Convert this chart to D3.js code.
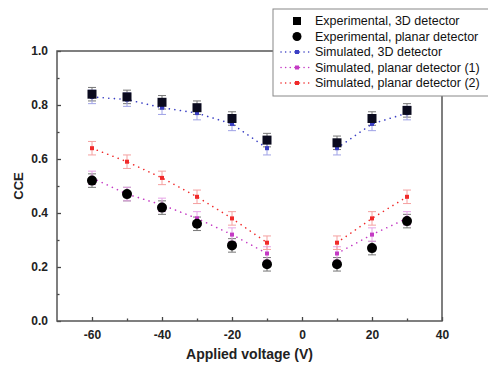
<!DOCTYPE html>
<html>
<head>
<meta charset="utf-8">
<script src="https://cdn.jsdelivr.net/npm/d3@7"></script>
<style>
  body { margin: 0; background: #fff; }
  svg { display: block; font-family: "Liberation Sans", Arial, sans-serif; }
</style>
</head>
<body>
<svg id="chart" width="488" height="366"></svg>
<script>
// data
const voltages = [-60, -50, -40, -30, -20, -10, 10, 20, 30];
const exp3d = [0.84, 0.83, 0.81, 0.79, 0.75, 0.67, 0.66, 0.75, 0.78];
const expPlanar = [0.52, 0.47, 0.42, 0.36, 0.28, 0.21, 0.21, 0.27, 0.37];
const sim3d = [0.83, 0.82, 0.79, 0.77, 0.73, 0.64, 0.64, 0.73, 0.77];
const simPlanar1 = [0.53, 0.47, 0.43, 0.38, 0.32, 0.25, 0.25, 0.32, 0.38];
const simPlanar2 = [0.64, 0.59, 0.53, 0.46, 0.38, 0.29, 0.29, 0.38, 0.46];
const errExp = 0.025;
const errSim = 0.025;
const xTicks = [-60, -40, -20, 0, 20, 40];
const yTicks = [0.0, 0.2, 0.4, 0.6, 0.8, 1.0];

const svg = d3.select('svg#chart');
const margin = {top: 51, right: 46, bottom: 45, left: 57};
const width = 488, height = 366;
const innerW = width - margin.left - margin.right;
const innerH = height - margin.top - margin.bottom;

const x = d3.scaleLinear().domain([-70, 40]).range([0, innerW]);
const y = d3.scaleLinear().domain([0, 1]).range([innerH, 0]);

const g = svg.append('g').attr('transform', `translate(${margin.left},${margin.top})`);

// ticks (inside), major + minor
const xAxis = d3.axisBottom(x).tickValues(xTicks).tickSize(-4).tickPadding(9).tickFormat(d => String(d));
const xMinor = d3.axisBottom(x).tickValues([-50, -30, -10, 10, 30]).tickSize(-2.5).tickFormat('');
const yAxis = d3.axisLeft(y).tickValues(yTicks).tickSize(-4).tickPadding(9).tickFormat(d => d.toFixed(1));
const yMinor = d3.axisLeft(y).tickValues([0.1, 0.3, 0.5, 0.7, 0.9]).tickSize(-2.5).tickFormat('');

function styleAxis(sel) {
  sel.select('.domain').remove();
  sel.selectAll('line').attr('stroke', '#444').attr('stroke-width', 1.3);
  sel.selectAll('text').attr('font-size', 12).attr('font-weight', 'bold')
    .attr('fill', '#222').attr('font-family', '"Liberation Sans", Arial, sans-serif');
}
g.append('g').attr('transform', `translate(0,${innerH})`).call(xAxis).call(styleAxis);
g.append('g').attr('transform', `translate(0,${innerH})`).call(xMinor).call(styleAxis);
g.append('g').call(yAxis).call(styleAxis);
g.append('g').call(yMinor).call(styleAxis);

// frame
g.append('rect').attr('width', innerW).attr('height', innerH)
  .attr('fill', 'none').attr('stroke', '#555').attr('stroke-width', 1.5);

// axis titles
svg.append('text').attr('x', margin.left + innerW / 2).attr('y', 359)
  .attr('text-anchor', 'middle').attr('font-size', 14).attr('font-weight', 'bold')
  .attr('fill', '#222').text('Applied voltage (V)');
svg.append('text').attr('transform', `translate(23,${margin.top + innerH / 2}) rotate(-90)`)
  .attr('text-anchor', 'middle').attr('font-size', 13).attr('font-weight', 'bold')
  .attr('fill', '#222').text('CCE');

const sims = [
  {name: 'Simulated, 3D detector', vals: sim3d, color: '#3a3fc4', errColor: '#9fa2e6'},
  {name: 'Simulated, planar detector (1)', vals: simPlanar1, color: '#c43ac4', errColor: '#e6a4e6'},
  {name: 'Simulated, planar detector (2)', vals: simPlanar2, color: '#f02a2a', errColor: '#f5a0a0'}
];

const line = d3.line().x(d => x(d[0])).y(d => y(d[1]));

function errBar(sel, vx, vy, e, color, cap) {
  const cx = x(vx);
  sel.append('line').attr('x1', cx).attr('x2', cx).attr('y1', y(vy - e)).attr('y2', y(vy + e))
    .attr('stroke', color).attr('stroke-width', 1);
  [vy - e, vy + e].forEach(v => {
    sel.append('line').attr('x1', cx - cap).attr('x2', cx + cap).attr('y1', y(v)).attr('y2', y(v))
      .attr('stroke', color).attr('stroke-width', 1);
  });
}

// experimental error bars
const errG = g.append('g');
voltages.forEach((v, i) => {
  errBar(errG, v, exp3d[i], errExp, '#777', 4);
  errBar(errG, v, expPlanar[i], errExp, '#777', 4);
});

// simulated: dotted lines (broken across 0), error bars, small squares
sims.forEach(s => {
  const pts = voltages.map((v, i) => [v, s.vals[i]]);
  [pts.filter(p => p[0] < 0), pts.filter(p => p[0] > 0)].forEach(seg => {
    g.append('path').datum(seg).attr('d', line).attr('fill', 'none')
      .attr('stroke', s.color).attr('stroke-width', 1.6)
      .attr('stroke-dasharray', '0.1,5.5').attr('stroke-linecap', 'round');
  });
  pts.forEach(p => errBar(g, p[0], p[1], errSim, s.errColor, 4));
  g.selectAll(null).data(pts).enter().append('rect')
    .attr('x', d => x(d[0]) - 2).attr('y', d => y(d[1]) - 2)
    .attr('width', 4).attr('height', 4).attr('fill', s.color);
});

// experimental markers
g.selectAll(null).data(voltages.map((v, i) => [v, exp3d[i]])).enter().append('rect')
  .attr('x', d => x(d[0]) - 4.5).attr('y', d => y(d[1]) - 4.5)
  .attr('width', 9).attr('height', 9).attr('fill', '#0a0a1e');
g.selectAll(null).data(voltages.map((v, i) => [v, expPlanar[i]])).enter().append('circle')
  .attr('cx', d => x(d[0])).attr('cy', d => y(d[1])).attr('r', 5).attr('fill', '#000');

// legend
const lg = svg.append('g');
lg.append('rect').attr('x', 273).attr('y', 9).attr('width', 230).attr('height', 87)
  .attr('fill', '#fff').attr('stroke', '#888').attr('stroke-width', 1);
const rows = [
  {name: 'Experimental, 3D detector', type: 'square'},
  {name: 'Experimental, planar detector', type: 'circle'}
].concat(sims.map(s => ({name: s.name, type: 'sim', color: s.color})));
rows.forEach((r, i) => {
  const ry = 21 + i * 15.5;
  if (r.type === 'square') {
    lg.append('rect').attr('x', 293).attr('y', ry - 4).attr('width', 8).attr('height', 8).attr('fill', '#000');
  } else if (r.type === 'circle') {
    lg.append('circle').attr('cx', 297).attr('cy', ry).attr('r', 4.5).attr('fill', '#000');
  } else {
    lg.append('line').attr('x1', 281).attr('x2', 312).attr('y1', ry).attr('y2', ry)
      .attr('stroke', r.color).attr('stroke-width', 1.5)
      .attr('stroke-dasharray', '0.1,4.5').attr('stroke-linecap', 'round');
    lg.append('rect').attr('x', 295).attr('y', ry - 2).attr('width', 4).attr('height', 4).attr('fill', r.color);
  }
  lg.append('text').attr('x', 315).attr('y', ry).attr('dy', '0.35em')
    .attr('font-size', 12.5).attr('fill', '#111').text(r.name);
});
</script>
</body>
</html>
